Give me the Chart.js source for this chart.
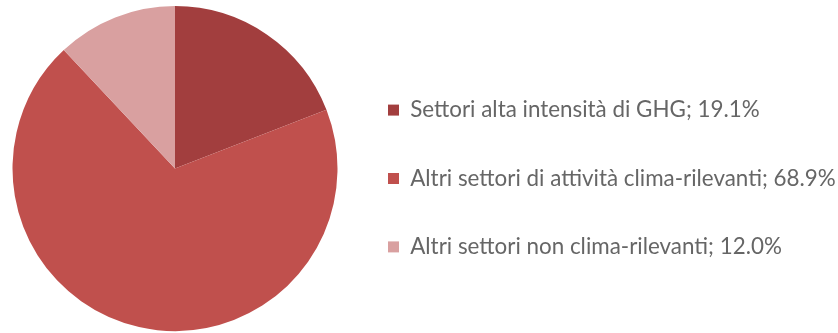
<!DOCTYPE html>
<html>
<head>
<meta charset="utf-8">
<script src="https://cdn.jsdelivr.net/npm/chart.js@4"></script>
<style>
	html, body { margin: 0; padding: 0; background: #fff; }
	#wrap { width: 838px; height: 333px; position: relative; }
</style>
</head>
<body>
<div id="wrap"><canvas id="torta"></canvas></div>
<script>
const settori = [
	"Settori alta intensità di GHG",
	"Altri settori di attività clima-rilevanti",
	"Altri settori non clima-rilevanti",
];
const quote = [19.1, 68.9, 12.0];
const colori = ["#a23e3e", "#c0504d", "#d9a0a0"];

// fixed legend width so the pie sits on the left half
const legendWidth = {
	id: "legendWidth",
	beforeUpdate(chart) {
		const legend = chart.legend;
		if (!legend || legend._fixed) return;
		const fit = legend.fit;
		legend.fit = function () {
			fit.call(this);
			this.width = 496;
		};
		legend._fixed = true;
	},
};

const tortaCanvas = document.getElementById("torta");
const tortaChart = new Chart(tortaCanvas, {
	type: "pie",
	plugins: [legendWidth],
	data: {
		labels: settori,
		datasets: [
			{
				data: quote,
				backgroundColor: colori,
				borderWidth: 0,
			},
		],
	},
	options: {
		responsive: true,
		maintainAspectRatio: false,
		animation: false,
		layout: {
			padding: { left: 8, top: 6, bottom: 2, right: 0 },
		},
		plugins: {
			tooltip: { enabled: false },
			legend: {
				position: "right",
				align: "center",
				// empty title, only pushes the items a bit lower
				title: {
					display: true,
					text: "",
					font: { size: 10 },
					padding: { top: 8, bottom: 0 },
				},
				labels: {
					boxWidth: 11,
					boxHeight: 11,
					padding: 46,
					color: "#383838",
					font: { family: "Lato", size: 22.4 },
					generateLabels: (chart) =>
						settori.map((nome, i) => ({
							text: `${nome}; ${quote[i].toFixed(1)}%`,
							fillStyle: colori[i],
							strokeStyle: colori[i],
							lineWidth: 0,
							index: i,
						})),
				},
			},
		},
	},
});
</script>
</body>
</html>
